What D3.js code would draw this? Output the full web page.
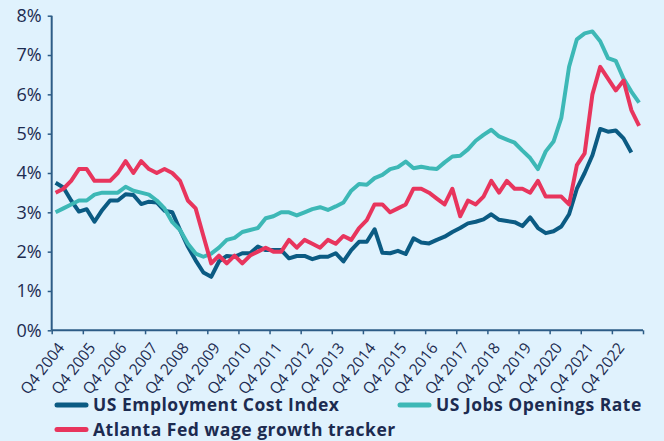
<!DOCTYPE html>
<html>
<head>
<meta charset="utf-8">
<script src="https://cdn.jsdelivr.net/npm/d3@7"></script>
<style>
  html, body { margin: 0; padding: 0; background: #e0f2fd; }
  svg { display: block; }
  text { font-family: "Open Sans", sans-serif; fill: #1c2b50; }
</style>
</head>
<body>
<svg id="chart" width="664" height="441"></svg>
<script>
const tickLabels = ["Q4 2004", "Q4 2005", "Q4 2006", "Q4 2007", "Q4 2008", "Q4 2009", "Q4 2010",
  "Q4 2011", "Q4 2012", "Q4 2013", "Q4 2014", "Q4 2015", "Q4 2016", "Q4 2017", "Q4 2018",
  "Q4 2019", "Q4 2020", "Q4 2021", "Q4 2022"];

const yTicks = [0, 1, 2, 3, 4, 5, 6, 7, 8];

// quarterly, starting Q4 2004
const eci = [3.75, 3.63, 3.3, 3.02, 3.08, 2.76, 3.06, 3.3, 3.3, 3.46,
  3.44, 3.21, 3.27, 3.25, 3.04, 3.0, 2.55, 2.13, 1.78, 1.47,
  1.36, 1.75, 1.89, 1.87, 1.96, 1.96, 2.13, 2.04, 2.04, 2.04,
  1.83, 1.89, 1.89, 1.81, 1.87, 1.87, 1.96, 1.75, 2.04, 2.25,
  2.25, 2.57, 1.97, 1.96, 2.02, 1.94, 2.34, 2.23, 2.21, 2.3,
  2.38, 2.5, 2.6, 2.72, 2.76, 2.82, 2.95, 2.81, 2.78, 2.75,
  2.65, 2.87, 2.6, 2.47, 2.52, 2.64, 2.95, 3.6, 4.0, 4.45,
  5.12, 5.05, 5.08, 4.88, 4.52];

const jolts = [3.0, 3.1, 3.2, 3.3, 3.3, 3.45, 3.5, 3.5, 3.5, 3.65,
  3.55, 3.5, 3.45, 3.3, 3.1, 2.75, 2.55, 2.2, 1.95, 1.87,
  1.95, 2.1, 2.3, 2.35, 2.5, 2.55, 2.6, 2.85, 2.9, 3.0,
  3.0, 2.92, 3.0, 3.08, 3.13, 3.06, 3.15, 3.25, 3.55, 3.72,
  3.7, 3.87, 3.95, 4.1, 4.15, 4.29, 4.12, 4.16, 4.12, 4.1,
  4.27, 4.42, 4.44, 4.6, 4.82, 4.97, 5.1, 4.93, 4.85, 4.77,
  4.57, 4.38, 4.1, 4.55, 4.8, 5.4, 6.7, 7.4, 7.55, 7.6,
  7.35, 6.92, 6.85, 6.4, 6.07, 5.79];

const atlanta = [3.5, 3.6, 3.8, 4.1, 4.1, 3.8, 3.8, 3.8, 4.0, 4.3,
  4.0, 4.3, 4.1, 4.0, 4.1, 4.0, 3.8, 3.3, 3.1, 2.4,
  1.7, 1.9, 1.7, 1.9, 1.7, 1.9, 2.0, 2.1, 2.0, 2.0,
  2.3, 2.1, 2.3, 2.2, 2.1, 2.3, 2.2, 2.4, 2.3, 2.6,
  2.8, 3.2, 3.2, 3.0, 3.1, 3.2, 3.6, 3.6, 3.5, 3.35,
  3.2, 3.6, 2.9, 3.3, 3.2, 3.4, 3.8, 3.5, 3.8, 3.6,
  3.6, 3.5, 3.8, 3.4, 3.4, 3.4, 3.2, 4.2, 4.5, 6.0,
  6.7, 6.4, 6.1, 6.35, 5.6, 5.2];

const seriesNames = ["US Employment Cost Index", "US Jobs Openings Rate", "Atlanta Fed wage growth tracker"];
const colors = ["#0b5b83", "#3db8b6", "#e8355d"];

const svg = d3.select("#chart");
const axisColor = "#2d5c86";

const nQuarters = 76;
const x = d3.scaleLinear().domain([0, nQuarters]).range([51.7, 643]);
const y = d3.scaleLinear().domain([0, 8]).range([330.3, 15.7]);

// y axis
const yAxis = svg.append("g").attr("transform", "translate(51.7,0)")
  .call(d3.axisLeft(y).tickValues(yTicks).tickSize(4).tickPadding(6).tickFormat(d => d + "%"));
yAxis.select(".domain").attr("stroke", axisColor).attr("stroke-width", 2).attr("d", "M0," + y(8) + "V" + y(0));
yAxis.selectAll(".tick line").attr("stroke", axisColor).attr("stroke-width", 1.5);
yAxis.selectAll(".tick text").attr("font-size", 18).attr("fill", "#1c2b50")
  .style("font-family", "'Open Sans', sans-serif");

// x axis
const xTickVals = d3.range(0, nQuarters + 1, 4);
const xAxis = svg.append("g").attr("transform", "translate(0," + y(0) + ")")
  .call(d3.axisBottom(x).tickValues(xTickVals).tickSize(4).tickFormat(""));
xAxis.select(".domain").attr("stroke", axisColor).attr("stroke-width", 2).attr("d", "M" + x(0) + ",0H" + x(nQuarters));
xAxis.selectAll(".tick line").attr("stroke", axisColor).attr("stroke-width", 1.5);

svg.append("g").selectAll("text").data(tickLabels).join("text")
  .attr("transform", (d, i) => "translate(" + (x(i * 4 + 0.5) + 1) + "," + (y(0) + 11) + ") rotate(-52)")
  .attr("text-anchor", "end")
  .attr("dy", "0.7em")
  .attr("font-size", 15.5)
  .text(d => d);

// lines
const line = d3.line().x((d, i) => x(i + 0.5)).y(d => y(d));
[eci, jolts, atlanta].forEach((vals, k) => {
  svg.append("path").datum(vals)
    .attr("fill", "none")
    .attr("stroke", colors[k])
    .attr("stroke-width", 4)
    .attr("stroke-linejoin", "round")
    .attr("d", line);
});

// legend
const legendPos = [[55, 405], [398, 405], [55, 429.5]];
seriesNames.forEach((name, k) => {
  const g = svg.append("g").attr("transform", "translate(" + legendPos[k][0] + "," + legendPos[k][1] + ")");
  g.append("line").attr("x1", 2).attr("x2", 31).attr("y1", 0).attr("y2", 0)
    .attr("stroke", colors[k]).attr("stroke-width", 5).attr("stroke-linecap", "round");
  g.append("text").attr("x", 38).attr("y", 0).attr("dy", "0.35em")
    .attr("font-size", 17.5).attr("font-weight", 700).attr("letter-spacing", 0.5).text(name);
});
</script>
</body>
</html>
